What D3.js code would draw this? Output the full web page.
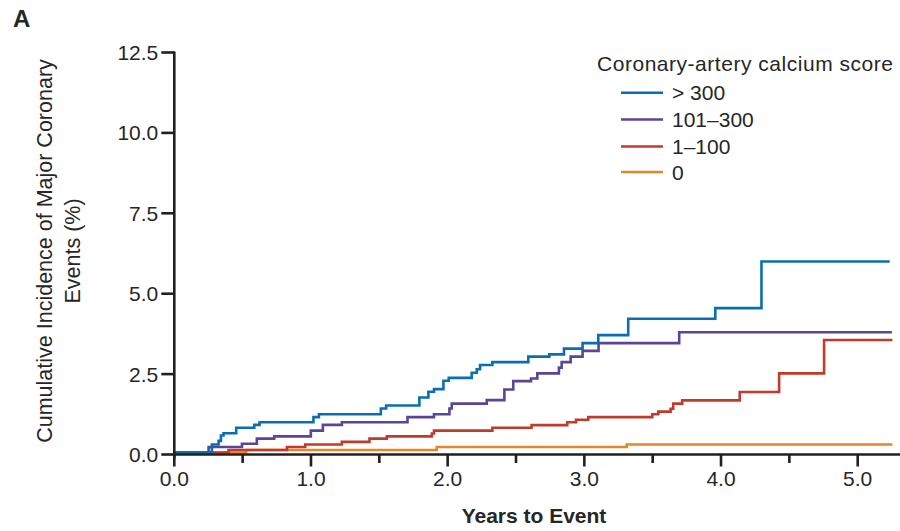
<!DOCTYPE html>
<html>
<head>
<meta charset="utf-8">
<script src="https://cdn.jsdelivr.net/npm/d3@7"></script>
<style>
  html, body { margin: 0; padding: 0; background: #fff; }
  svg text { font-family: "Liberation Sans", Arial, sans-serif; fill: #262626; }
</style>
</head>
<body>
<svg id="chart" width="900" height="531"></svg>
<script>
// ── data ──────────────────────────────────────────────────────
const seriesNames  = ["> 300", "101–300", "1–100", "0"];
const seriesColors = ["#0a6fb0", "#5b4597", "#c03b2b", "#e3872b"];

// step times (years) and cumulative incidence (%) after each step
const gt300Times  = [0, 0.275, 0.324, 0.341, 0.36, 0.453, 0.585, 0.624, 1.018, 1.058, 1.511, 1.55, 1.793, 1.859, 1.90, 1.969, 2.008, 2.176, 2.213, 2.237, 2.327, 2.59, 2.744, 2.851, 2.987, 3.102, 3.321, 3.958, 4.296, 5.234];
const gt300Values = [0, 0.25, 0.36, 0.53, 0.60, 0.77, 0.86, 0.94, 1.10, 1.19, 1.37, 1.46, 1.71, 1.89, 1.97, 2.23, 2.32, 2.48, 2.59, 2.72, 2.81, 2.98, 3.05, 3.23, 3.40, 3.65, 4.16, 4.49, 5.94, 5.94];

const mid101Times  = [0, 0.251, 0.495, 0.604, 0.731, 0.999, 1.087, 1.226, 1.706, 1.90, 2.013, 2.03, 2.286, 2.415, 2.48, 2.61, 2.656, 2.814, 2.834, 2.90, 2.987, 3.104, 3.694, 5.25];
const mid101Values = [0, 0.17, 0.27, 0.43, 0.50, 0.68, 0.86, 0.94, 1.10, 1.19, 1.37, 1.52, 1.63, 1.96, 2.22, 2.30, 2.46, 2.64, 2.81, 2.98, 3.16, 3.40, 3.74, 3.74];

const low1Times  = [0, 0.397, 0.824, 0.958, 1.226, 1.428, 1.555, 1.884, 1.90, 2.327, 2.614, 2.875, 2.939, 3.029, 3.497, 3.541, 3.631, 3.65, 3.716, 4.137, 4.425, 4.754, 5.254];
const low1Values = [0, 0.08, 0.17, 0.25, 0.33, 0.43, 0.50, 0.59, 0.68, 0.77, 0.85, 0.94, 1.02, 1.10, 1.19, 1.27, 1.36, 1.52, 1.62, 1.88, 2.46, 3.50, 3.50];

const zeroTimes  = [0, 0.526, 1.92, 3.31, 5.254];
const zeroValues = [0, 0.08, 0.17, 0.25, 0.25];

const yTicks = [0, 2.5, 5, 7.5, 10, 12.5];
const xTicks = [0, 0.5, 1, 1.5, 2, 2.5, 3, 3.5, 4, 4.5, 5];

// ── layout ───────────────────────────────────────────────────
const X0 = 174.3, X5 = 857.7;      // pixel of 0.0 and 5.0 years
const Y0 = 454.5, Y125 = 52.5;     // pixel of 0.0 and 12.5 %
const LINE_W = 2.6;

const svg = d3.select("#chart");
const x = d3.scaleLinear().domain([0, 5]).range([X0, X5]);
const y = d3.scaleLinear().domain([0, 12.5]).range([Y0, Y125]);

// series in draw order: orange under red under purple under blue
const series = [
  { name: seriesNames[3], color: seriesColors[3], t: zeroTimes,  v: zeroValues },
  { name: seriesNames[2], color: seriesColors[2], t: low1Times,  v: low1Values },
  { name: seriesNames[1], color: seriesColors[1], t: mid101Times, v: mid101Values },
  { name: seriesNames[0], color: seriesColors[0], t: gt300Times, v: gt300Values }
];

const line = d3.line()
  .x(d => x(d[0]))
  .y(d => y(d[1]))
  .curve(d3.curveStepAfter);

// lines sit just on top of the x axis
const lineG = svg.append("g").attr("transform", "translate(0,-2)");
series.forEach(s => {
  lineG.append("path")
    .datum(s.t.map((t, i) => [t, s.v[i]]))
    .attr("d", line)
    .attr("fill", "none")
    .attr("stroke", s.color)
    .attr("stroke-width", LINE_W)
    .attr("stroke-linejoin", "miter")
    .attr("stroke-linecap", "butt");
});

// ── axes ─────────────────────────────────────────────────────
const axisColor = "#231f20";

// x axis
const xAxis = svg.append("g").attr("transform", `translate(0,${Y0})`);
xAxis.append("line")
  .attr("x1", X0 - 1).attr("x2", 900)
  .attr("stroke", axisColor).attr("stroke-width", LINE_W);
xAxis.selectAll("line.tick").data(xTicks).join("line")
  .attr("class", "tick")
  .attr("x1", d => x(d)).attr("x2", d => x(d))
  .attr("y1", 0).attr("y2", d => Number.isInteger(d) ? 12 : 8.5)
  .attr("stroke", axisColor).attr("stroke-width", LINE_W);
xAxis.selectAll("text").data(xTicks.filter(Number.isInteger)).join("text")
  .attr("x", d => x(d)).attr("y", 31)
  .attr("text-anchor", "middle")
  .style("font-size", "21px")
  .text(d3.format(".1f"));

// y axis
const yAxis = svg.append("g").attr("transform", `translate(${X0},0)`);
yAxis.append("line")
  .attr("y1", Y125 - 1).attr("y2", Y0 + 4)
  .attr("stroke", axisColor).attr("stroke-width", LINE_W);
yAxis.selectAll("line.tick").data(yTicks).join("line")
  .attr("class", "tick")
  .attr("x1", -13).attr("x2", 0)
  .attr("y1", d => y(d)).attr("y2", d => y(d))
  .attr("stroke", axisColor).attr("stroke-width", LINE_W);
yAxis.selectAll("text").data(yTicks).join("text")
  .attr("x", -16).attr("y", d => y(d) + 7.5)
  .attr("text-anchor", "end")
  .style("font-size", "21px")
  .text(d3.format(".1f"));

// axis titles
svg.append("text")
  .attr("x", 534).attr("y", 523)
  .attr("text-anchor", "middle")
  .style("font-size", "21px").style("font-weight", "bold")
  .text("Years to Event");

const yTitle = svg.append("g");
yTitle.append("text")
  .attr("transform", "translate(52,251) rotate(-90)")
  .attr("text-anchor", "middle")
  .style("font-size", "21.5px")
  .text("Cumulative Incidence of Major Coronary");
yTitle.append("text")
  .attr("transform", "translate(80,251) rotate(-90)")
  .attr("text-anchor", "middle")
  .style("font-size", "21.5px")
  .text("Events (%)");

// panel letter
svg.append("text")
  .attr("x", 13).attr("y", 27)
  .style("font-size", "24px").style("font-weight", "bold")
  .text("A");

// ── legend ───────────────────────────────────────────────────
const legend = svg.append("g");
legend.append("text")
  .attr("x", 597).attr("y", 71)
  .style("font-size", "21px")
  .attr("textLength", 296).attr("lengthAdjust", "spacing")
  .text("Coronary-artery calcium score");

const legendRows = [92.7, 119.5, 146.5, 172];
seriesNames.forEach((name, i) => {
  legend.append("line")
    .attr("x1", 621).attr("x2", 663)
    .attr("y1", legendRows[i]).attr("y2", legendRows[i])
    .attr("stroke", seriesColors[i]).attr("stroke-width", LINE_W);
  legend.append("text")
    .attr("x", 672).attr("y", legendRows[i] + 7.5)
    .style("font-size", "21px")
    .text(name);
});
</script>
</body>
</html>
